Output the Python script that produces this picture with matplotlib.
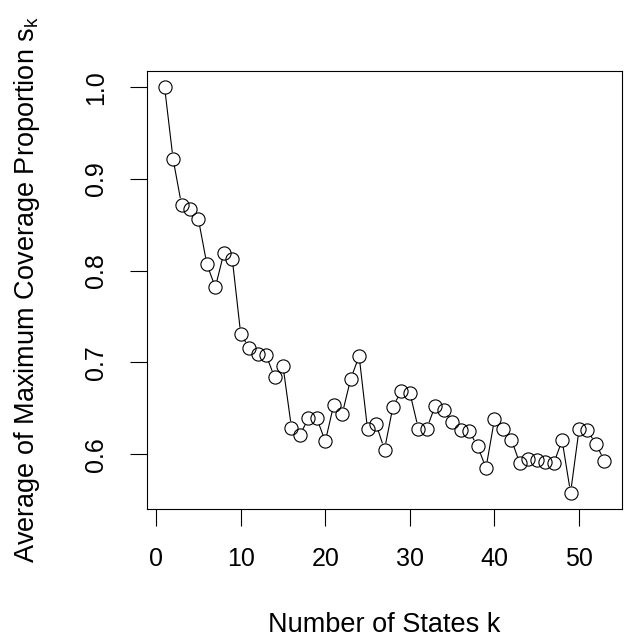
#!/usr/bin/env python
# -*- coding: utf-8 -*-
#
# average maximum coverage proportion versus number of states

import numpy as np
import matplotlib
matplotlib.use("Agg")
import matplotlib.pyplot as plt
from matplotlib.collections import LineCollection

plt.rcParams['font.family'] = ['Liberation Sans', 'DejaVu Sans']

# -- data
n_states = list(range(1, 54))
coverage = [1.000, 0.922, 0.872, 0.867, 0.856, 0.807, 0.782, 0.819, 0.813, 0.731,
            0.716, 0.709, 0.708, 0.684, 0.696, 0.629, 0.621, 0.639, 0.639, 0.614,
            0.654, 0.644, 0.682, 0.707, 0.627, 0.633, 0.605, 0.652, 0.669, 0.667,
            0.628, 0.628, 0.653, 0.648, 0.635, 0.626, 0.625, 0.609, 0.585, 0.638,
            0.627, 0.616, 0.590, 0.595, 0.594, 0.592, 0.590, 0.615, 0.558, 0.627,
            0.626, 0.611, 0.593]
x_ticks = [0, 10, 20, 30, 40, 50]
y_ticks = [0.6, 0.7, 0.8, 0.9, 1.0]

x_title = "Number of States k"
y_title = r"Average of Maximum Coverage Proportion $\mathregular{s_k}$"

W, H = 624, 640
msize = 9.5  # marker size in points

fig = plt.figure(figsize=(W / 100.0, H / 100.0), dpi=100)
ax = fig.add_axes([147.0 / W, 1 - 509.0 / H, (622.0 - 147.0) / W, (509.0 - 71.0) / H])

# R style padding of 4 percent
xr = max(n_states) - min(n_states)
yr = max(coverage) - min(coverage)
ax.set_xlim(min(n_states) - 0.04 * xr, max(n_states) + 0.04 * xr)
ax.set_ylim(min(coverage) - 0.04 * yr, max(coverage) + 0.04 * yr)

# -- type="b": lines stop at the edge of the circles
pts = ax.transData.transform(np.column_stack([n_states, coverage]))
rad = msize / 2.0 * fig.dpi / 72.0
segs = []
for p0, p1 in zip(pts[:-1], pts[1:]):
    d = p1 - p0
    dist = np.hypot(d[0], d[1])
    if dist <= 2 * rad:
        continue
    u = d / dist
    segs.append([p0 + u * rad, p1 - u * rad])
lc = LineCollection(segs, colors='black', linewidths=0.8, transform=None)
ax.add_collection(lc)

ax.plot(n_states, coverage, 'o', markerfacecolor='none', markeredgecolor='black',
        markersize=msize, markeredgewidth=0.8)

ax.set_xticks(x_ticks)
ax.set_xticklabels([str(t) for t in x_ticks])
ax.set_yticks(y_ticks)
ax.set_yticklabels(['%.1f' % t for t in y_ticks], rotation=90, va='center')

ax.tick_params(direction='out', length=12, width=0.8, labelsize=18, pad=15)
ax.tick_params(axis='y', pad=16)
for sp in ax.spines.values():
    sp.set_linewidth(0.8)

fig.text(384.5 / W, 1 - 625.0 / H, x_title, fontsize=19.5, ha='center', va='center')
fig.text(27.0 / W, 1 - 290.0 / H, y_title, fontsize=19.5, ha='center', va='center',
         rotation=90)

fig.savefig("out.png", dpi=100)
plt.close()
